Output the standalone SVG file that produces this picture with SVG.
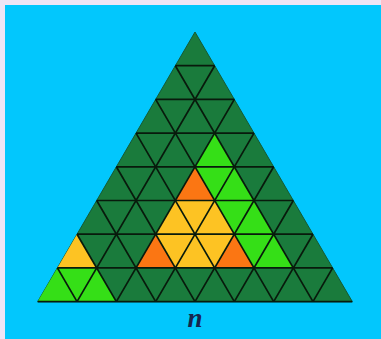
<svg xmlns="http://www.w3.org/2000/svg" width="381" height="339" viewBox="0 0 381 339">
<style>
.dg{fill:#1a7b3c}
.lg{fill:#35df17}
.yl{fill:#fdc323}
.or{fill:#fb7613}
.grid line{stroke:#081a0c;stroke-width:1.7}
.lbl{font-family:"Liberation Serif",serif;font-style:italic;font-weight:bold;font-size:27px;fill:#16254f}
</style>
<rect x="0" y="0" width="381" height="339" fill="#efe5f5"/>
<rect x="5" y="5" width="376" height="334" fill="#02c7fd"/>
<g id="triangle">
<polygon class="dg" points="195,32 352.3,301.6 37.7,301.6" stroke="#155a34" stroke-width="1"/>
<polygon class="lg" points="214.66,133.1 195,166.8 234.33,166.8"/>
<polygon class="or" points="195,166.8 175.34,200.5 214.66,200.5"/>
<polygon class="lg" points="195,166.8 234.33,166.8 214.66,200.5"/>
<polygon class="lg" points="234.33,166.8 214.66,200.5 253.99,200.5"/>
<polygon class="yl" points="175.34,200.5 155.68,234.2 195,234.2"/>
<polygon class="yl" points="175.34,200.5 214.66,200.5 195,234.2"/>
<polygon class="yl" points="214.66,200.5 195,234.2 234.33,234.2"/>
<polygon class="lg" points="214.66,200.5 253.99,200.5 234.33,234.2"/>
<polygon class="lg" points="253.99,200.5 234.33,234.2 273.65,234.2"/>
<polygon class="yl" points="77.03,234.2 57.36,267.9 96.69,267.9"/>
<polygon class="or" points="155.68,234.2 136.01,267.9 175.34,267.9"/>
<polygon class="yl" points="155.68,234.2 195,234.2 175.34,267.9"/>
<polygon class="yl" points="195,234.2 175.34,267.9 214.66,267.9"/>
<polygon class="yl" points="195,234.2 234.33,234.2 214.66,267.9"/>
<polygon class="or" points="234.33,234.2 214.66,267.9 253.99,267.9"/>
<polygon class="lg" points="234.33,234.2 273.65,234.2 253.99,267.9"/>
<polygon class="lg" points="273.65,234.2 253.99,267.9 293.31,267.9"/>
<polygon class="lg" points="57.36,267.9 37.7,301.6 77.03,301.6"/>
<polygon class="lg" points="57.36,267.9 96.69,267.9 77.03,301.6"/>
<polygon class="lg" points="96.69,267.9 77.03,301.6 116.35,301.6"/>
</g>
<g id="grid" class="grid">
<line x1="175.34" y1="65.7" x2="214.66" y2="65.7"/>
<line x1="155.68" y1="99.4" x2="234.33" y2="99.4"/>
<line x1="136.01" y1="133.1" x2="253.99" y2="133.1"/>
<line x1="116.35" y1="166.8" x2="273.65" y2="166.8"/>
<line x1="96.69" y1="200.5" x2="293.31" y2="200.5"/>
<line x1="77.03" y1="234.2" x2="312.98" y2="234.2"/>
<line x1="57.36" y1="267.9" x2="332.64" y2="267.9"/>
<line x1="77.03" y1="301.6" x2="214.66" y2="65.7"/>
<line x1="116.35" y1="301.6" x2="234.33" y2="99.4"/>
<line x1="155.68" y1="301.6" x2="253.99" y2="133.1"/>
<line x1="195" y1="301.6" x2="273.65" y2="166.8"/>
<line x1="234.33" y1="301.6" x2="293.32" y2="200.5"/>
<line x1="273.65" y1="301.6" x2="312.98" y2="234.2"/>
<line x1="312.98" y1="301.6" x2="332.64" y2="267.9"/>
<line x1="77.03" y1="301.6" x2="57.37" y2="267.9"/>
<line x1="116.35" y1="301.6" x2="77.03" y2="234.2"/>
<line x1="155.68" y1="301.6" x2="96.69" y2="200.5"/>
<line x1="195" y1="301.6" x2="116.35" y2="166.8"/>
<line x1="234.33" y1="301.6" x2="136.02" y2="133.1"/>
<line x1="273.65" y1="301.6" x2="155.68" y2="99.4"/>
<line x1="312.98" y1="301.6" x2="175.34" y2="65.7"/>
<line x1="37.7" y1="301.6" x2="352.3" y2="301.6" stroke="#103a4a"/>
</g>
<text class="lbl" x="195" y="327" text-anchor="middle">n</text>
</svg>
